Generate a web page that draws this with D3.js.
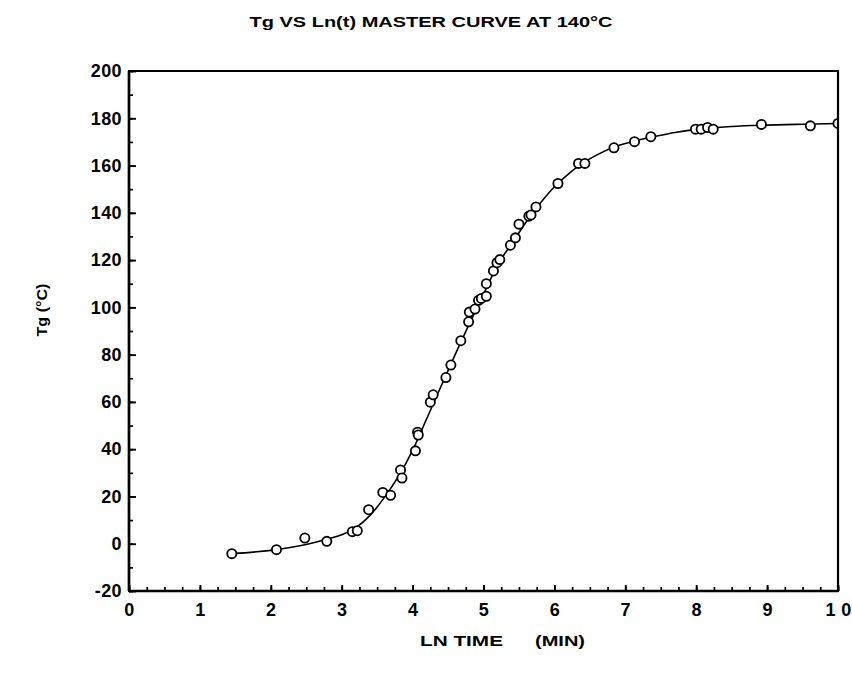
<!DOCTYPE html>
<html>
<head>
<meta charset="utf-8">
<script src="https://cdn.jsdelivr.net/npm/d3@7"></script>
<style>
  body { margin: 0; background: #fff; }
  text { font-family: "Liberation Sans", Arial, sans-serif; font-weight: bold; fill: #000; }
</style>
</head>
<body>
<div id="chart"></div>
<script>
// measured points
var lnTime = [1.45, 2.08, 2.48, 2.79, 3.15, 3.22, 3.38, 3.58, 3.69, 3.83, 3.85, 4.04, 4.07, 4.08,
  4.25, 4.29, 4.47, 4.54, 4.68, 4.79, 4.80, 4.88, 4.93, 4.97, 5.04, 5.04, 5.14, 5.19, 5.23,
  5.38, 5.45, 5.50, 5.64, 5.67, 5.74, 6.05, 6.34, 6.43, 6.84, 7.13, 7.36, 7.99, 8.07, 8.16,
  8.24, 8.92, 9.61, 10.0];
var tg = [-4.2, -2.5, 2.4, 1.0, 5.1, 5.5, 14.4, 21.7, 20.5, 31.2, 27.8, 39.3, 47.2, 46.0,
  59.9, 63.0, 70.3, 75.6, 85.9, 93.9, 98.0, 99.3, 103.0, 103.8, 104.7, 110.0, 115.4, 118.9, 120.2,
  126.3, 129.4, 135.2, 138.6, 139.1, 142.5, 152.4, 160.9, 160.9, 167.5, 170.1, 172.2, 175.4, 175.4, 176.1,
  175.4, 177.4, 176.8, 177.8];

// master curve
var curveX = [1.45, 2.0, 2.5, 2.8, 3.0, 3.2, 3.4, 3.6, 3.8, 4.0, 4.2, 4.4, 4.6, 4.8, 5.0, 5.2, 5.4,
  5.6, 5.8, 6.0, 6.2, 6.4, 6.6, 6.8, 7.0, 7.2, 7.4, 7.7, 8.0, 8.5, 9.0, 9.5, 10.0];
var curveY = [-4.2, -2.8, -0.3, 2.0, 3.8, 6.8, 12.0, 19.5, 28.5, 39.5, 53, 66.5, 80, 93, 105.5, 118, 127,
  136, 144, 151, 156.5, 161, 164.5, 167.3, 169.3, 170.9, 172.2, 174, 175.3, 176.5, 177.1, 177.5, 177.8];

var xTicks = [0, 1, 2, 3, 4, 5, 6, 7, 8, 9, 10];
var xTickLabels = ["0", "1", "2", "3", "4", "5", "6", "7", "8", "9", "1 0"];
var yTicks = [-20, 0, 20, 40, 60, 80, 100, 120, 140, 160, 180, 200];
var yTickLabels = ["-20", "0", "20", "40", "60", "80", "100", "120", "140", "160", "180", "200"];

var margin = { top: 71, right: 14, bottom: 89, left: 129 },
    width = 852 - margin.left - margin.right,
    height = 680 - margin.top - margin.bottom;

var svg = d3.select("#chart")
    .append("svg")
    .attr("width", 852)
    .attr("height", 680);

var g = svg.append("g")
    .attr("transform", "translate(" + margin.left + "," + margin.top + ")");

var x = d3.scaleLinear().domain([0, 10]).range([0, width]);
var y = d3.scaleLinear().domain([-20, 200]).range([height, 0]);

// minor ticks
g.append("g")
    .attr("transform", "translate(0," + height + ")")
    .call(d3.axisBottom(x).tickValues(d3.range(0, 10.01, 0.25)).tickSizeInner(-4).tickSizeOuter(0).tickFormat(""))
    .call(function (a) { a.select(".domain").remove(); a.selectAll("line").attr("stroke-width", 1.7); });
g.append("g")
    .call(d3.axisLeft(y).tickValues(d3.range(-20, 201, 10)).tickSizeInner(-4).tickSizeOuter(0).tickFormat(""))
    .call(function (a) { a.select(".domain").remove(); a.selectAll("line").attr("stroke-width", 1.7); });

// major ticks + labels
var xAxis = g.append("g")
    .attr("transform", "translate(0," + height + ")")
    .call(d3.axisBottom(x).tickValues(xTicks).tickSizeInner(-6).tickSizeOuter(0).tickPadding(12)
        .tickFormat(function (d, i) { return xTickLabels[i]; }));
var yAxis = g.append("g")
    .call(d3.axisLeft(y).tickValues(yTicks).tickSizeInner(-7).tickSizeOuter(0).tickPadding(7)
        .tickFormat(function (d, i) { return yTickLabels[i]; }));

[xAxis, yAxis].forEach(function (a) {
    a.select(".domain").remove();
    a.selectAll("line").attr("stroke-width", 1.9);
    a.selectAll("text")
        .style("font-size", "18px")
        .style("font-family", "'Liberation Sans', Arial, sans-serif")
        .style("font-weight", "bold")
        .style("letter-spacing", "0.4px");
});

// frame
g.append("rect")
    .attr("width", width).attr("height", height)
    .attr("fill", "none").attr("stroke", "#000").attr("stroke-width", 2);
g.append("line").attr("x1", 0).attr("x2", 0).attr("y1", 0).attr("y2", height)
    .attr("stroke", "#000").attr("stroke-width", 2.7);
g.append("line").attr("x1", 0).attr("x2", width).attr("y1", height).attr("y2", height)
    .attr("stroke", "#000").attr("stroke-width", 2.7);

g.append("clipPath").attr("id", "clip")
    .append("rect").attr("width", width).attr("height", height);

var plot = g.append("g").attr("clip-path", "url(#clip)");

var line = d3.line()
    .x(function (d, i) { return x(curveX[i]); })
    .y(function (d) { return y(d); })
    .curve(d3.curveMonotoneX);

plot.append("path")
    .datum(curveY)
    .attr("d", line)
    .attr("fill", "none")
    .attr("stroke", "#000")
    .attr("stroke-width", 1.6);

plot.selectAll("circle")
    .data(tg)
    .enter()
    .append("circle")
    .attr("cx", function (d, i) { return x(lnTime[i]); })
    .attr("cy", function (d) { return y(d); })
    .attr("r", 4.6)
    .attr("fill", "#fff")
    .attr("stroke", "#000")
    .attr("stroke-width", 1.8);

// redraw right border over clipped last point
g.append("line").attr("x1", width).attr("x2", width).attr("y1", 0).attr("y2", height)
    .attr("stroke", "#000").attr("stroke-width", 2.2);

// titles
svg.append("text")
    .attr("x", 431).attr("y", 26.5)
    .attr("text-anchor", "middle")
    .attr("textLength", 363).attr("lengthAdjust", "spacingAndGlyphs")
    .style("font-size", "15.5px")
    .text("Tg VS Ln(t) MASTER CURVE AT 140°C");

svg.append("text")
    .attr("x", 420).attr("y", 646)
    .attr("textLength", 83).attr("lengthAdjust", "spacingAndGlyphs")
    .style("font-size", "15.5px")
    .text("LN TIME");
svg.append("text")
    .attr("x", 535).attr("y", 646)
    .attr("textLength", 50).attr("lengthAdjust", "spacingAndGlyphs")
    .style("font-size", "15.5px")
    .text("(MIN)");

svg.append("text")
    .attr("transform", "translate(47,310) rotate(-90)")
    .attr("text-anchor", "middle")
    .attr("textLength", 53).attr("lengthAdjust", "spacingAndGlyphs")
    .style("font-size", "15.5px")
    .text("Tg (°C)");
</script>
</body>
</html>
